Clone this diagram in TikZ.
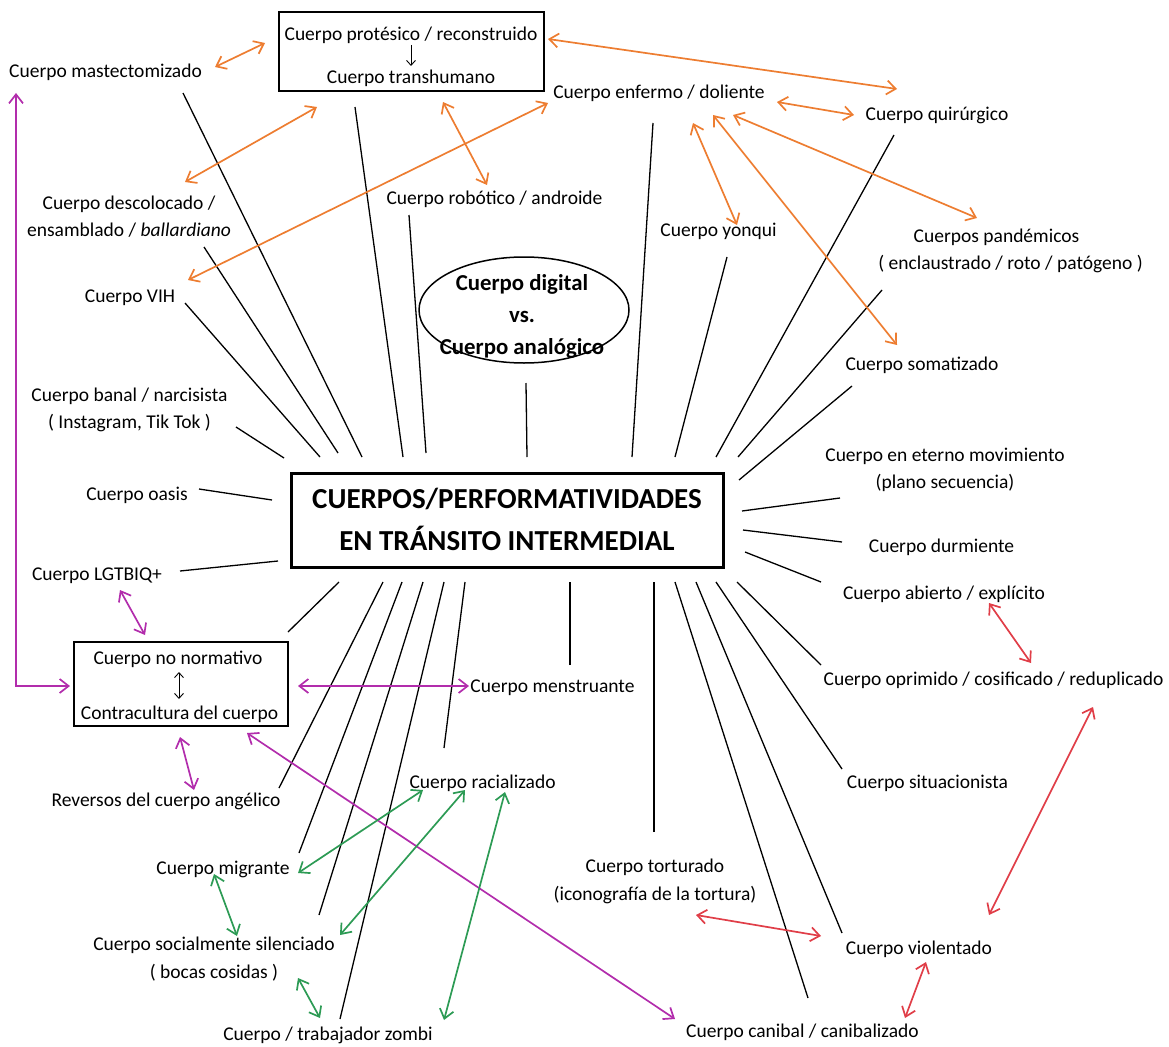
\documentclass[tikz,border=0pt]{standalone}
\usepackage{fontspec}
\setmainfont{Carlito}
\usetikzlibrary{arrows.meta,shapes.geometric}
\definecolor{corange}{RGB}{237,125,49}
\definecolor{cmag}{RGB}{178,45,172}
\definecolor{cgreen}{RGB}{45,155,85}
\definecolor{cred}{RGB}{224,62,72}
\tikzset{
  lbl/.style={inner sep=0pt, align=center, font=\fontsize{19.5}{27.5}\selectfont},
  ray/.style={draw=black, line width=1.3pt},
  barb/.tip={Straight Barb[length=9pt,width=14pt]},
  arr/.style={barb-barb, line width=1.7pt},
  oarr/.style={arr, draw=corange},
  marr/.style={arr, draw=cmag},
  garr/.style={arr, draw=cgreen},
  rarr/.style={arr, draw=cred},
  smallarr/.style={line width=0.9pt, -{Straight Barb[length=5pt,width=9pt]}},
  smallarr2/.style={line width=0.9pt, {Straight Barb[length=5pt,width=9pt]}-{Straight Barb[length=5pt,width=9pt]}},
  boxed/.style={draw=black, line width=1.5pt, inner sep=0pt}
}
\begin{document}
\begin{tikzpicture}[x=1pt,y=-1pt]
\useasboundingbox (0,0) rectangle (1169,1046);

% ---------- boxes ----------
\node[boxed, minimum width=265pt, minimum height=79pt] (boxP) at (411.5,51.5) {};
\node[lbl] (prot) at (411,35) {Cuerpo protésico / reconstruido};
\node[lbl] (trans) at (411,78) {Cuerpo transhumano};
\coordinate (pa1) at (411,45); \coordinate (pa2) at (411,66);
\draw[smallarr] (pa1) -- (pa2);

\node[draw=black, line width=3pt, minimum width=432pt, minimum height=94pt, inner sep=0pt] (main) at (507,520) {};
\node[inner sep=0pt, align=center, font=\fontsize{29}{42}\selectfont\bfseries] (maintxt) at (507,519)
  {CUERPOS/PERFORMATIVIDADES\\EN TRÁNSITO INTERMEDIAL};

\node[boxed, minimum width=214pt, minimum height=84pt] (nn) at (181,684) {};
\node[lbl] (nn1) at (178,659) {Cuerpo no normativo};
\node[lbl] (nn2) at (179.5,714) {Contracultura del cuerpo};
\coordinate (na1) at (179,672); \coordinate (na2) at (179,699);
\draw[smallarr2] (na1) -- (na2);

\node[draw=black, line width=1.5pt, ellipse, minimum width=210pt, minimum height=106pt, inner sep=0pt] (ell) at (524,310) {};
\node[inner sep=0pt, align=center, font=\fontsize{22.8}{32}\selectfont\bfseries] (elltxt) at (522,316)
  {Cuerpo digital\\vs.\\Cuerpo analógico};

% ---------- labels ----------
\node[lbl] (mast) at (105.5,72) {Cuerpo mastectomizado};
\node[lbl] (enf) at (659,93) {Cuerpo enfermo / doliente};
\node[lbl] (quir) at (937,115) {Cuerpo quirúrgico};
\node[lbl] (desc) at (129,216.5) {Cuerpo descolocado /\\ensamblado / \textit{ballardiano}};
\node[lbl] (rob) at (494.5,199) {Cuerpo robótico / androide};
\node[lbl] (yon) at (718.5,231) {Cuerpo yonqui};
\node[lbl] (pand) at (996.5,237) {Cuerpos pandémicos};
\node[lbl] (pand2) at (1010.5,264) {( enclaustrado / roto / patógeno )};
\node[lbl] (vih) at (130,298) {Cuerpo VIH};
\node[lbl] (soma) at (922,365) {Cuerpo somatizado};
\node[lbl] (banal) at (129.5,410) {Cuerpo banal / narcisista\\( Instagram, Tik Tok )};
\node[lbl] (mov) at (945,470) {Cuerpo en eterno movimiento\\(plano secuencia)};
\node[lbl] (oasis) at (137,495) {Cuerpo oasis};
\node[lbl] (durm) at (941.5,547) {Cuerpo durmiente};
\node[lbl] (lgtb) at (97,576) {Cuerpo LGTBIQ+};
\node[lbl] (abie) at (944,594) {Cuerpo abierto / explícito};
\node[lbl] (opri) at (993.5,680) {Cuerpo oprimido / cosificado / reduplicado};
\node[lbl] (mens) at (552.5,688) {Cuerpo menstruante};
\node[lbl] (rev) at (166,801) {Reversos del cuerpo angélico};
\node[lbl] (rac) at (482.6,783) {Cuerpo racializado};
\node[lbl] (sit) at (927.5,783) {Cuerpo situacionista};
\node[lbl] (mig) at (223,869) {Cuerpo migrante};
\node[lbl] (tort) at (655,881.5) {Cuerpo torturado\\(iconografía de la tortura)};
\node[lbl] (viol) at (919,949) {Cuerpo violentado};
\node[lbl] (sil) at (214,959) {Cuerpo socialmente silenciado\\( bocas cosidas )};
\node[lbl] (zomb) at (328,1035) {Cuerpo / trabajador zombi};
\node[lbl] (can) at (802.5,1032) {Cuerpo canibal / canibalizado};

% ---------- radial lines (label end -> box end) ----------
\coordinate (r1a) at (183,93);   \coordinate (r1b) at (362,457);
\coordinate (r2a) at (355,107);  \coordinate (r2b) at (403,457);
\coordinate (r3a) at (204,247);  \coordinate (r3b) at (338,453);
\coordinate (r4a) at (409,215);  \coordinate (r4b) at (426,453);
\coordinate (r5a) at (185,303);  \coordinate (r5b) at (320,457);
\coordinate (r6a) at (236,427);  \coordinate (r6b) at (284,458);
\coordinate (r7a) at (526,383);  \coordinate (r7b) at (527,457);
\coordinate (r8a) at (199,489);  \coordinate (r8b) at (272,500);
\coordinate (r9a) at (180,571);  \coordinate (r9b) at (278,561);
\coordinate (r10a) at (653,123); \coordinate (r10b) at (632,457);
\coordinate (r11a) at (727,257); \coordinate (r11b) at (675,457);
\coordinate (r12a) at (894,135); \coordinate (r12b) at (716,457);
\coordinate (r13a) at (882,290); \coordinate (r13b) at (738,457);
\coordinate (r14a) at (852,386); \coordinate (r14b) at (739,480);
\coordinate (r15a) at (840,498); \coordinate (r15b) at (742,511);
\coordinate (r16a) at (842,542); \coordinate (r16b) at (743,530);
\coordinate (r17a) at (821,582); \coordinate (r17b) at (745,552);
\coordinate (r18a) at (288,632); \coordinate (r18b) at (339,582);
\coordinate (r19a) at (279,788); \coordinate (r19b) at (383,582);
\coordinate (r20a) at (299,853); \coordinate (r20b) at (402,582);
\coordinate (r21a) at (319,915); \coordinate (r21b) at (423,582);
\coordinate (r22a) at (340,1019);\coordinate (r22b) at (444,582);
\coordinate (r23a) at (444,748); \coordinate (r23b) at (465,582);
\coordinate (r24a) at (570,665); \coordinate (r24b) at (570,582);
\coordinate (r25a) at (654,832); \coordinate (r25b) at (654,582);
\coordinate (r26a) at (808,998); \coordinate (r26b) at (675,582);
\coordinate (r27a) at (842,933); \coordinate (r27b) at (696,582);
\coordinate (r28a) at (842,769); \coordinate (r28b) at (716,582);
\coordinate (r29a) at (821,665); \coordinate (r29b) at (737,582);
\foreach \i in {1,...,29} { \draw[ray] (r\i a) -- (r\i b); }

% ---------- orange arrows ----------
\coordinate (o1a) at (215,67);  \coordinate (o1b) at (265,43);
\coordinate (o2a) at (185,182); \coordinate (o2b) at (317,107);
\coordinate (o3a) at (188,280); \coordinate (o3b) at (548,103);
\coordinate (o4a) at (443,102); \coordinate (o4b) at (487,185);
\coordinate (o5a) at (548,39);  \coordinate (o5b) at (897,89);
\coordinate (o6a) at (777,102); \coordinate (o6b) at (854,115);
\coordinate (o7a) at (693,123); \coordinate (o7b) at (737,225);
\coordinate (o8a) at (713,115); \coordinate (o8b) at (897,345);
\coordinate (o9a) at (733,115); \coordinate (o9b) at (977,218);
\foreach \i in {1,...,9} { \draw[oarr] (o\i a) -- (o\i b); }

% ---------- magenta arrows ----------
\coordinate (m1a) at (16,93); \coordinate (m1c) at (16,686); \coordinate (m1b) at (70,686);
\draw[marr] (m1a) -- (m1c) -- (m1b);
\coordinate (m2a) at (120,590); \coordinate (m2b) at (145,635);
\coordinate (m3a) at (298,686); \coordinate (m3b) at (469,686);
\coordinate (m4a) at (180,737); \coordinate (m4b) at (194,790);
\coordinate (m5a) at (247,733); \coordinate (m5b) at (675,1019);
\foreach \i in {2,...,5} { \draw[marr] (m\i a) -- (m\i b); }

% ---------- green arrows ----------
\coordinate (g1a) at (298,873); \coordinate (g1b) at (423,790);
\coordinate (g2a) at (340,935); \coordinate (g2b) at (465,790);
\coordinate (g3a) at (444,1020);\coordinate (g3b) at (505,792);
\coordinate (g4a) at (214,874); \coordinate (g4b) at (237,936);
\coordinate (g5a) at (298,978); \coordinate (g5b) at (320,1018);
\foreach \i in {1,...,5} { \draw[garr] (g\i a) -- (g\i b); }

% ---------- red arrows ----------
\coordinate (e1a) at (989,603);  \coordinate (e1b) at (1031,663);
\coordinate (e2a) at (1093,707); \coordinate (e2b) at (989,915);
\coordinate (e3a) at (696,915);  \coordinate (e3b) at (821,936);
\coordinate (e4a) at (926,962);  \coordinate (e4b) at (905,1018);
\foreach \i in {1,...,4} { \draw[rarr] (e\i a) -- (e\i b); }

\end{tikzpicture}
\end{document}
